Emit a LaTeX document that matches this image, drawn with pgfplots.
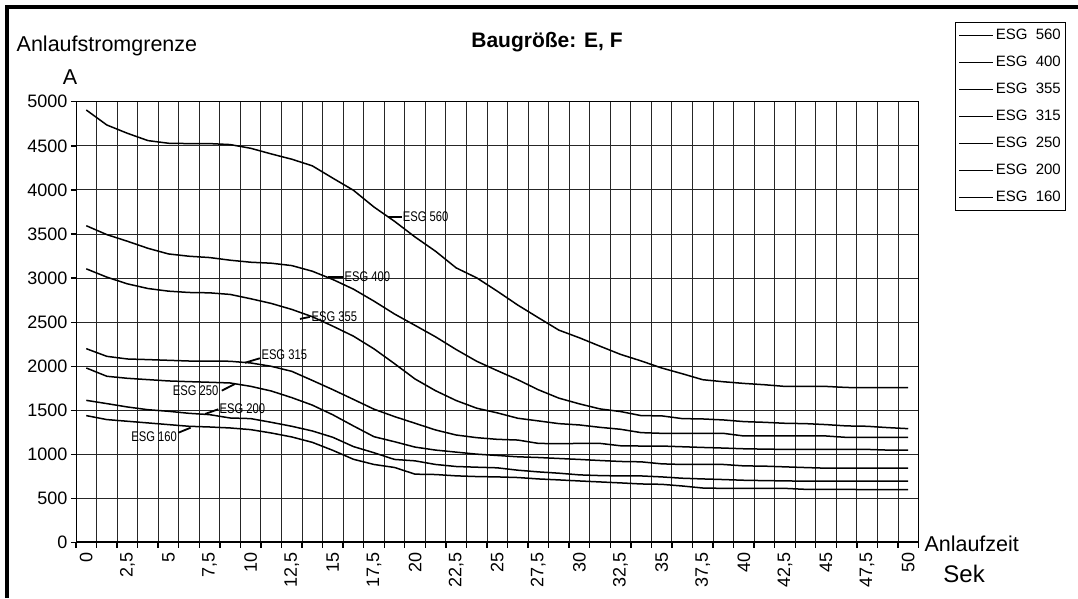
\documentclass[border=0pt]{standalone}
\usepackage{fontspec}
\setmainfont{Liberation Sans}
\usepackage{graphicx}
\usepackage{pgfplots}
\pgfplotsset{compat=1.18}
\usepackage{pgfplotstable}

\pgfplotstableread{
t     s560 s400 s355 s315 s250 s200 s160
0     4906 3594 3105 2200 1981 1614 1441
1.25  4736 3493 3011 2113 1887 1577 1396
2.5   4642 3418 2935 2083 1864 1539 1377
3.75  4559 3338 2882 2076 1849 1508 1358
5     4529 3274 2852 2068 1834 1490 1339
6.25  4525 3248 2837 2060 1826 1467 1320
7.5   4525 3233 2833 2060 1819 1452 1312
8.75  4514 3203 2815 2057 1811 1414 1301
10    4472 3180 2766 2038 1773 1407 1282
11.25 4408 3169 2713 2000 1720 1365 1244
12.5  4348 3142 2645 1943 1645 1320 1199
13.75 4273 3078 2562 1840 1560 1267 1138
15    4133 2984 2455 1735 1450 1195 1047
16.25 3996 2875 2342 1625 1324 1090 946
17.5  3806 2739 2198 1514 1202 1020 887
18.75 3644 2593 2030 1430 1145 944  853
20    3466 2464 1856 1354 1084 928  777
21.25 3304 2334 1723 1278 1050 887  773
22.5  3116 2190 1612 1221 1027 864  758
23.75 3003 2057 1525 1191 1004 856  750
25    2852 1951 1472 1172 989  849  746
26.25 2694 1848 1411 1164 974  822  739
27.5  2551 1734 1381 1126 966  803  723
28.75 2410 1639 1350 1122 955  788  712
30    2323 1574 1335 1126 944  769  700
31.25 2228 1517 1308 1126 932  761  689
32.5  2135 1487 1286 1099 921  757  678
33.75 2061 1441 1248 1096 917  757  666
35    1981 1438 1240 1096 894  746  662
36.25 1916 1407 1240 1088 887  731  643
37.5  1848 1403 1240 1080 887  723  620
38.75 1825 1392 1240 1073 887  716  616
40    1806 1373 1210 1065 871  708  616
41.25 1791 1365 1210 1061 868  704  616
42.5  1772 1354 1210 1058 860  701  616
43.75 1772 1350 1210 1058 852  697  605
45    1772 1339 1210 1058 845  697  605
46.25 1760 1324 1194 1058 845  697  605
47.5  1757 1320 1194 1058 845  697  601
48.75 1757 1305 1194 1050 845  697  601
50    1757 1293 1194 1050 845  697  601
}\data

\newcommand{\lab}[1]{\scalebox{0.8}[1]{\fontsize{14}{14}\selectfont #1}}

\begin{document}
\begin{tikzpicture}[x=1pt,y=1pt]
\useasboundingbox (0,0) rectangle (1078,598);
\draw[line width=4pt] (6.5,0) -- (6.5,591) -- (1080,591);
\begin{axis}[
  at={(76pt,55.3pt)}, anchor=south west,
  scale only axis, width=842.5pt, height=441pt,
  xmin=-0.625, xmax=50.625, ymin=0, ymax=5000,
  xtick={-0.625,0.625,1.875,3.125,4.375,5.625,6.875,8.125,9.375,10.625,11.875,13.125,14.375,15.625,16.875,18.125,19.375,20.625,21.875,23.125,24.375,25.625,26.875,28.125,29.375,30.625,31.875,33.125,34.375,35.625,36.875,38.125,39.375,40.625,41.875,43.125,44.375,45.625,46.875,48.125,49.375,50.625},
  xticklabels={},
  extra x ticks={0,2.5,...,50},
  extra x tick labels={0,{2,5},5,{7,5},10,{12,5},15,{17,5},20,{22,5},25,{27,5},30,{32,5},35,{37,5},40,{42,5},45,{47,5},50},
  extra x tick style={major tick length=0pt, grid=none, tick style={draw=none}},
  ytick={0,500,...,5000},
  xmajorgrids=true, ymajorgrids=true,
  grid style={black!85, line width=0.9pt},
  major grid style={black!85, line width=0.9pt},
  axis line style={line width=0.9pt},
  tick align=outside, tick pos=left,
  major tick length=5pt,
  every tick/.append style={black, line width=1.4pt},
  /pgf/number format/assume math mode=true,
  /pgf/number format/1000 sep={},
  scaled y ticks=false,
  yticklabel style={font=\fontsize{18}{18}\selectfont, anchor=east},
  xticklabel style={font=\fontsize{18}{18}\selectfont, rotate=90, anchor=east, inner xsep=10pt},
  legend style={at={(1.0436,1.180)}, anchor=north west, draw=black, line width=0.8pt,
    font=\fontsize{15}{15}\selectfont, row sep=9pt, inner xsep=3pt, inner ysep=4pt,
    nodes={inner sep=2pt, text height=11pt, text depth=3pt}},
  legend cell align=left,
  legend image code/.code={\draw[line width=1.2pt, black, solid] (0pt,0pt) -- (34pt,0pt);},
]
\addplot[black, solid, line width=1.5pt, mark=none] table[x=t,y=s560]{\data}; \addlegendentry{ESG\hspace{0.55em}560}
\addplot[black, solid, line width=1.5pt, mark=none] table[x=t,y=s400]{\data}; \addlegendentry{ESG\hspace{0.55em}400}
\addplot[black, solid, line width=1.5pt, mark=none] table[x=t,y=s355]{\data}; \addlegendentry{ESG\hspace{0.55em}355}
\addplot[black, solid, line width=1.5pt, mark=none] table[x=t,y=s315]{\data}; \addlegendentry{ESG\hspace{0.55em}315}
\addplot[black, solid, line width=1.5pt, mark=none] table[x=t,y=s250]{\data}; \addlegendentry{ESG\hspace{0.55em}250}
\addplot[black, solid, line width=1.5pt, mark=none] table[x=t,y=s200]{\data}; \addlegendentry{ESG\hspace{0.55em}200}
\addplot[black, solid, line width=1.5pt, mark=none] table[x=t,y=s160]{\data}; \addlegendentry{ESG\hspace{0.55em}160}
% leader lines and curve labels
\draw[line width=1.8pt] (axis cs:18.35,3697) -- (axis cs:19.2,3697);
\node[anchor=west, inner sep=0pt] at (axis cs:19.25,3697) {\lab{ESG 560}};
\draw[line width=1.8pt] (axis cs:14.73,3016) -- (axis cs:15.63,3016);
\node[anchor=west, inner sep=0pt] at (axis cs:15.7,3016) {\lab{ESG 400}};
\draw[line width=1.8pt] (axis cs:13.0,2537) -- (axis cs:13.6,2560);
\node[anchor=west, inner sep=0pt] at (axis cs:13.7,2563) {\lab{ESG 355}};
\draw[line width=1.8pt] (axis cs:9.66,2041) -- (axis cs:10.56,2091);
\node[anchor=west, inner sep=0pt] at (axis cs:10.65,2128) {\lab{ESG 315}};
\draw[line width=1.8pt] (axis cs:8.24,1724) -- (axis cs:9.05,1800);
\node[anchor=east, inner sep=0pt] at (axis cs:8.05,1724) {\lab{ESG 250}};
\draw[line width=1.8pt] (axis cs:7.22,1459) -- (axis cs:8.03,1513);
\node[anchor=west, inner sep=0pt] at (axis cs:8.1,1524) {\lab{ESG 200}};
\draw[line width=1.8pt] (axis cs:5.6,1247) -- (axis cs:6.35,1304);
\node[anchor=east, inner sep=0pt] at (axis cs:5.52,1202) {\lab{ESG 160}};
% thick left and bottom axis lines
\draw[line width=2.8pt] (rel axis cs:0,1) -- (rel axis cs:0,0) -- (rel axis cs:1,0);
\end{axis}
\node[anchor=base, font=\bfseries\fontsize{21}{21}\selectfont] at (547,550) {Baugröße: E, F};
\node[anchor=base west, inner sep=0pt, font=\fontsize{21.5}{21.5}\selectfont] at (16.5,546) {Anlaufstromgrenze};
\node[anchor=base, inner sep=0pt, font=\fontsize{21.5}{21.5}\selectfont] at (70,513.6) {A};
\node[anchor=base west, inner sep=0pt, font=\fontsize{21.5}{21.5}\selectfont] at (924.3,46.4) {Anlaufzeit};
\node[anchor=base west, inner sep=0pt, font=\fontsize{24}{24}\selectfont] at (943.2,15.5) {Sek};
\end{tikzpicture}
\end{document}
